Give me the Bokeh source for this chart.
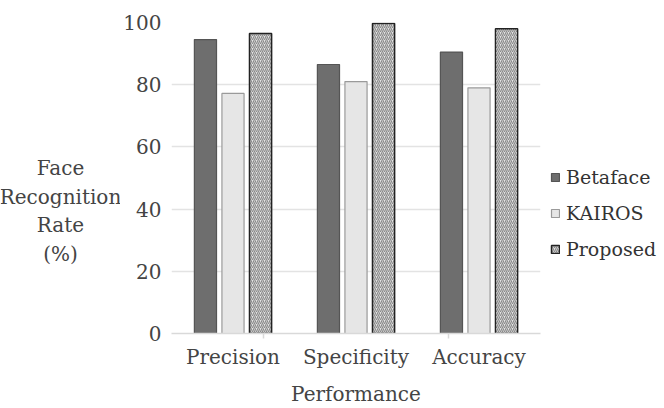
from bokeh.plotting import figure
from bokeh.models import (ColumnDataSource, Legend, LegendItem, Label, CategoricalAxis,
                          FactorRange)
from bokeh.layouts import row
from bokeh.transform import dodge
from bokeh.embed import file_html
from bokeh.resources import INLINE

categories = ["Precision", "Specificity", "Accuracy"]
betaface = [94.5, 86.5, 90.5]
kairos = [77.2, 81.0, 79.0]
proposed = [96.5, 99.7, 98.0]
y_ticks = [0, 20, 40, 60, 80, 100]
y_label_lines = ["Face", "Recognition", "Rate", "(%)"]

FONT = "DejaVu Serif"
FS = "20px"
TXT = "#444444"

src = ColumnDataSource(dict(cat=categories, betaface=betaface, kairos=kairos, proposed=proposed))

p = figure(x_range=categories, y_range=(0, 100), frame_width=369, frame_height=311,
           output_backend="svg", toolbar_location=None,
           min_border_left=48, min_border_right=0, min_border_top=22, min_border_bottom=75)

# helper range whose factor centres fall on the boundaries between the categories
bound_factors = [" " * (i + 1) for i in range(len(categories) + 1)]
p.extra_x_ranges = {"bounds": FactorRange(factors=bound_factors, range_padding=-1,
                                          range_padding_units="absolute")}

w = 0.18
r1 = p.vbar(x=dodge("cat", -0.224, range=p.x_range), top="betaface", width=w, source=src,
            fill_color="#6e6e6e", line_color="#555555", line_width=1.2)
r2 = p.vbar(x=dodge("cat", 0.0, range=p.x_range), top="kairos", width=w, source=src,
            fill_color="#e6e6e6", line_color="#9a9a9a", line_width=1.2)
r3 = p.vbar(x=dodge("cat", 0.224, range=p.x_range), top="proposed", width=w, source=src,
            fill_color="#e4e4e4", line_color="#222222", line_width=1.5,
            hatch_pattern="right_diagonal_line", hatch_color="#8a8a8a", hatch_scale=4, hatch_weight=1.2)

legend = Legend(items=[LegendItem(label="Betaface", renderers=[r1]),
                       LegendItem(label="KAIROS", renderers=[r2]),
                       LegendItem(label="Proposed", renderers=[r3])],
                location=(10, 73))
legend.border_line_color = None
legend.background_fill_alpha = 0
legend.glyph_width = 10
legend.glyph_height = 10
legend.label_text_font = FONT
legend.label_text_font_size = "19px"
legend.label_text_color = "#333333"
legend.spacing = 14
legend.padding = 4
legend.margin = 0
legend.label_standoff = 6
p.add_layout(legend, "right")

p.outline_line_color = None
p.xgrid.grid_line_color = None
p.ygrid.grid_line_color = "#e3e3e3"
p.ygrid.grid_line_width = 1.5
p.yaxis.ticker = y_ticks
p.yaxis.axis_line_color = None
p.yaxis.major_tick_line_color = None
p.yaxis.minor_tick_line_color = None
p.yaxis.major_tick_out = 0
p.yaxis.major_tick_in = 0
p.yaxis.major_label_standoff = 10

# category axis (labels only)
p.xaxis.axis_line_color = None
p.xaxis.major_tick_line_color = None
p.xaxis.major_tick_out = 0
p.xaxis.major_tick_in = 0
p.xaxis.major_label_standoff = 6
p.x_range.range_padding = 0
for ax in (p.xaxis[0], p.yaxis[0]):
    ax.major_label_text_font = FONT
    ax.major_label_text_font_size = FS
    ax.major_label_text_color = TXT
    ax.axis_label_text_font = FONT
    ax.axis_label_text_font_size = FS
    ax.axis_label_text_font_style = "normal"
    ax.axis_label_text_color = TXT
p.xaxis.axis_label = "Performance"
p.xaxis.axis_label_standoff = 10

# baseline axis with separator ticks between the categories
bax = CategoricalAxis(x_range_name="bounds",
                      axis_line_color="#d9d9d9", axis_line_width=1.5,
                      major_tick_line_color="#d9d9d9", major_tick_line_width=1.5,
                      major_tick_out=5, major_tick_in=0, minor_tick_line_color=None,
                      major_label_text_font_size="0px", major_label_standoff=0)
p.below = [bax] + list(p.below)

# left panel holding the horizontal, centred y-axis title
lab = figure(width=120, height=408, x_range=(0, 120), y_range=(0, 408),
             output_backend="svg", toolbar_location=None,
             min_border_left=0, min_border_right=0, min_border_top=0, min_border_bottom=0)
lab.axis.visible = False
lab.grid.visible = False
lab.outline_line_color = None
line_y = [166, 137, 109, 80]
for txt, yy in zip(y_label_lines, line_y):
    lab.add_layout(Label(x=60, y=yy, x_units="screen", y_units="screen", text=txt,
                         text_align="center", text_baseline="middle",
                         text_font=FONT, text_font_size=FS, text_color=TXT))

layout = row(lab, p, spacing=0)
open("out.html", "w").write(file_html(layout, INLINE))
